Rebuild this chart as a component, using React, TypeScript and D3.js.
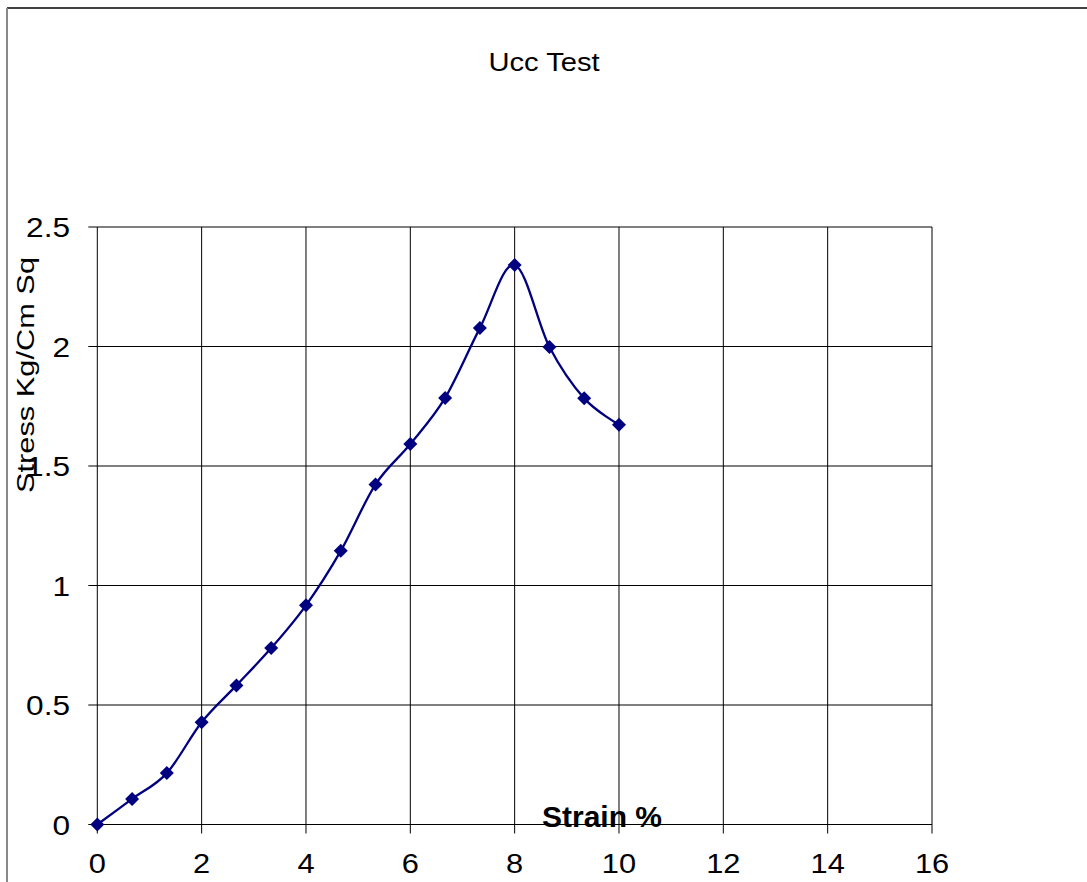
import React from "react";
import * as d3 from "d3";

const strain = [0, 0.667, 1.333, 2, 2.667, 3.333, 4, 4.667, 5.333, 6, 6.667, 7.333, 8, 8.667, 9.333, 10];
const stress = [0, 0.107, 0.215, 0.428, 0.582, 0.738, 0.917, 1.145, 1.423, 1.592, 1.785, 2.077, 2.341, 1.998, 1.783, 1.673];
const xTicks = [0, 2, 4, 6, 8, 10, 12, 14, 16];
const yTicks = [0, 0.5, 1, 1.5, 2, 2.5];
const yTickLabels = ["0", "0.5", "1", "1.5", "2", "2.5"];
const title = "Ucc Test";
const xLabel = "Strain %";
const yLabel = "Stress Kg/Cm Sq";

const W = 1087;
const H = 882;
const FONT = "'Liberation Sans', Arial, Helvetica, sans-serif";
const NAVY = "#000080";

export default function App() {
  const x = d3.scaleLinear().domain([0, 16]).range([97.3, 932]);
  const y = d3.scaleLinear().domain([0, 2.5]).range([824.5, 227]);
  const pts: [number, number][] = strain.map((s, i) => [s, stress[i]]);
  const line = d3
    .line<[number, number]>()
    .x((d) => x(d[0]))
    .y((d) => y(d[1]))
    .curve(d3.curveCardinal.tension(0));
  const diamond = (cx: number, cy: number, r: number) =>
    `M${cx},${cy - r}L${cx + r},${cy}L${cx},${cy + r}L${cx - r},${cy}Z`;

  const [x0, x1] = x.range();
  const [y0, y1] = y.range();

  return (
    <svg
      width={W}
      height={H}
      style={{ position: "absolute", left: 0, top: 0, background: "#fff" }}
      fontFamily={FONT}
    >
      <rect x={0} y={0} width={W} height={H} fill="#fff" />
      {/* chart frame */}
      <line x1={7} y1={8} x2={W} y2={8} stroke="#000" strokeWidth={1.5} />
      <line x1={7} y1={8} x2={7} y2={H} stroke="#888" strokeWidth={2} />

      {/* title */}
      <text
        transform={`translate(544,71) scale(1.1,1)`}
        textAnchor="middle"
        fontSize={26.5}
        fill="#000"
      >
        {title}
      </text>

      {/* gridlines */}
      {yTicks.map((t) => (
        <line key={"gy" + t} x1={x0 - 9} x2={x1} y1={y(t)} y2={y(t)} stroke="#000" strokeWidth={1} />
      ))}
      {xTicks.map((t) => (
        <line key={"gx" + t} x1={x(t)} x2={x(t)} y1={y1} y2={y0 + 9} stroke="#000" strokeWidth={1} />
      ))}

      {/* y tick labels */}
      {yTicks.map((t, i) => (
        <text
          key={"yl" + t}
          transform={`translate(70,${y(t) + 10}) scale(1.15,1)`}
          textAnchor="end"
          fontSize={27.5}
          fill="#000"
        >
          {yTickLabels[i]}
        </text>
      ))}

      {/* x tick labels */}
      {xTicks.map((t) => (
        <text
          key={"xl" + t}
          transform={`translate(${x(t)},873) scale(1.1,1)`}
          textAnchor="middle"
          fontSize={28}
          fill="#000"
        >
          {String(t)}
        </text>
      ))}

      {/* y axis label */}
      <text
        transform={`translate(34,375) rotate(-90)`}
        textAnchor="middle"
        fontSize={23}
        textLength={236}
        lengthAdjust="spacingAndGlyphs"
        fill="#000"
      >
        {yLabel}
      </text>

      {/* series */}
      <path d={line(pts) || ""} fill="none" stroke={NAVY} strokeWidth={2.3} />
      {pts.map((d, i) => (
        <path key={"m" + i} d={diamond(x(d[0]), y(d[1]), 7)} fill={NAVY} />
      ))}

      {/* x axis label */}
      <text x={602} y={827} textAnchor="middle" fontSize={30} fontWeight="bold" fill="#000">
        {xLabel}
      </text>
    </svg>
  );
}
